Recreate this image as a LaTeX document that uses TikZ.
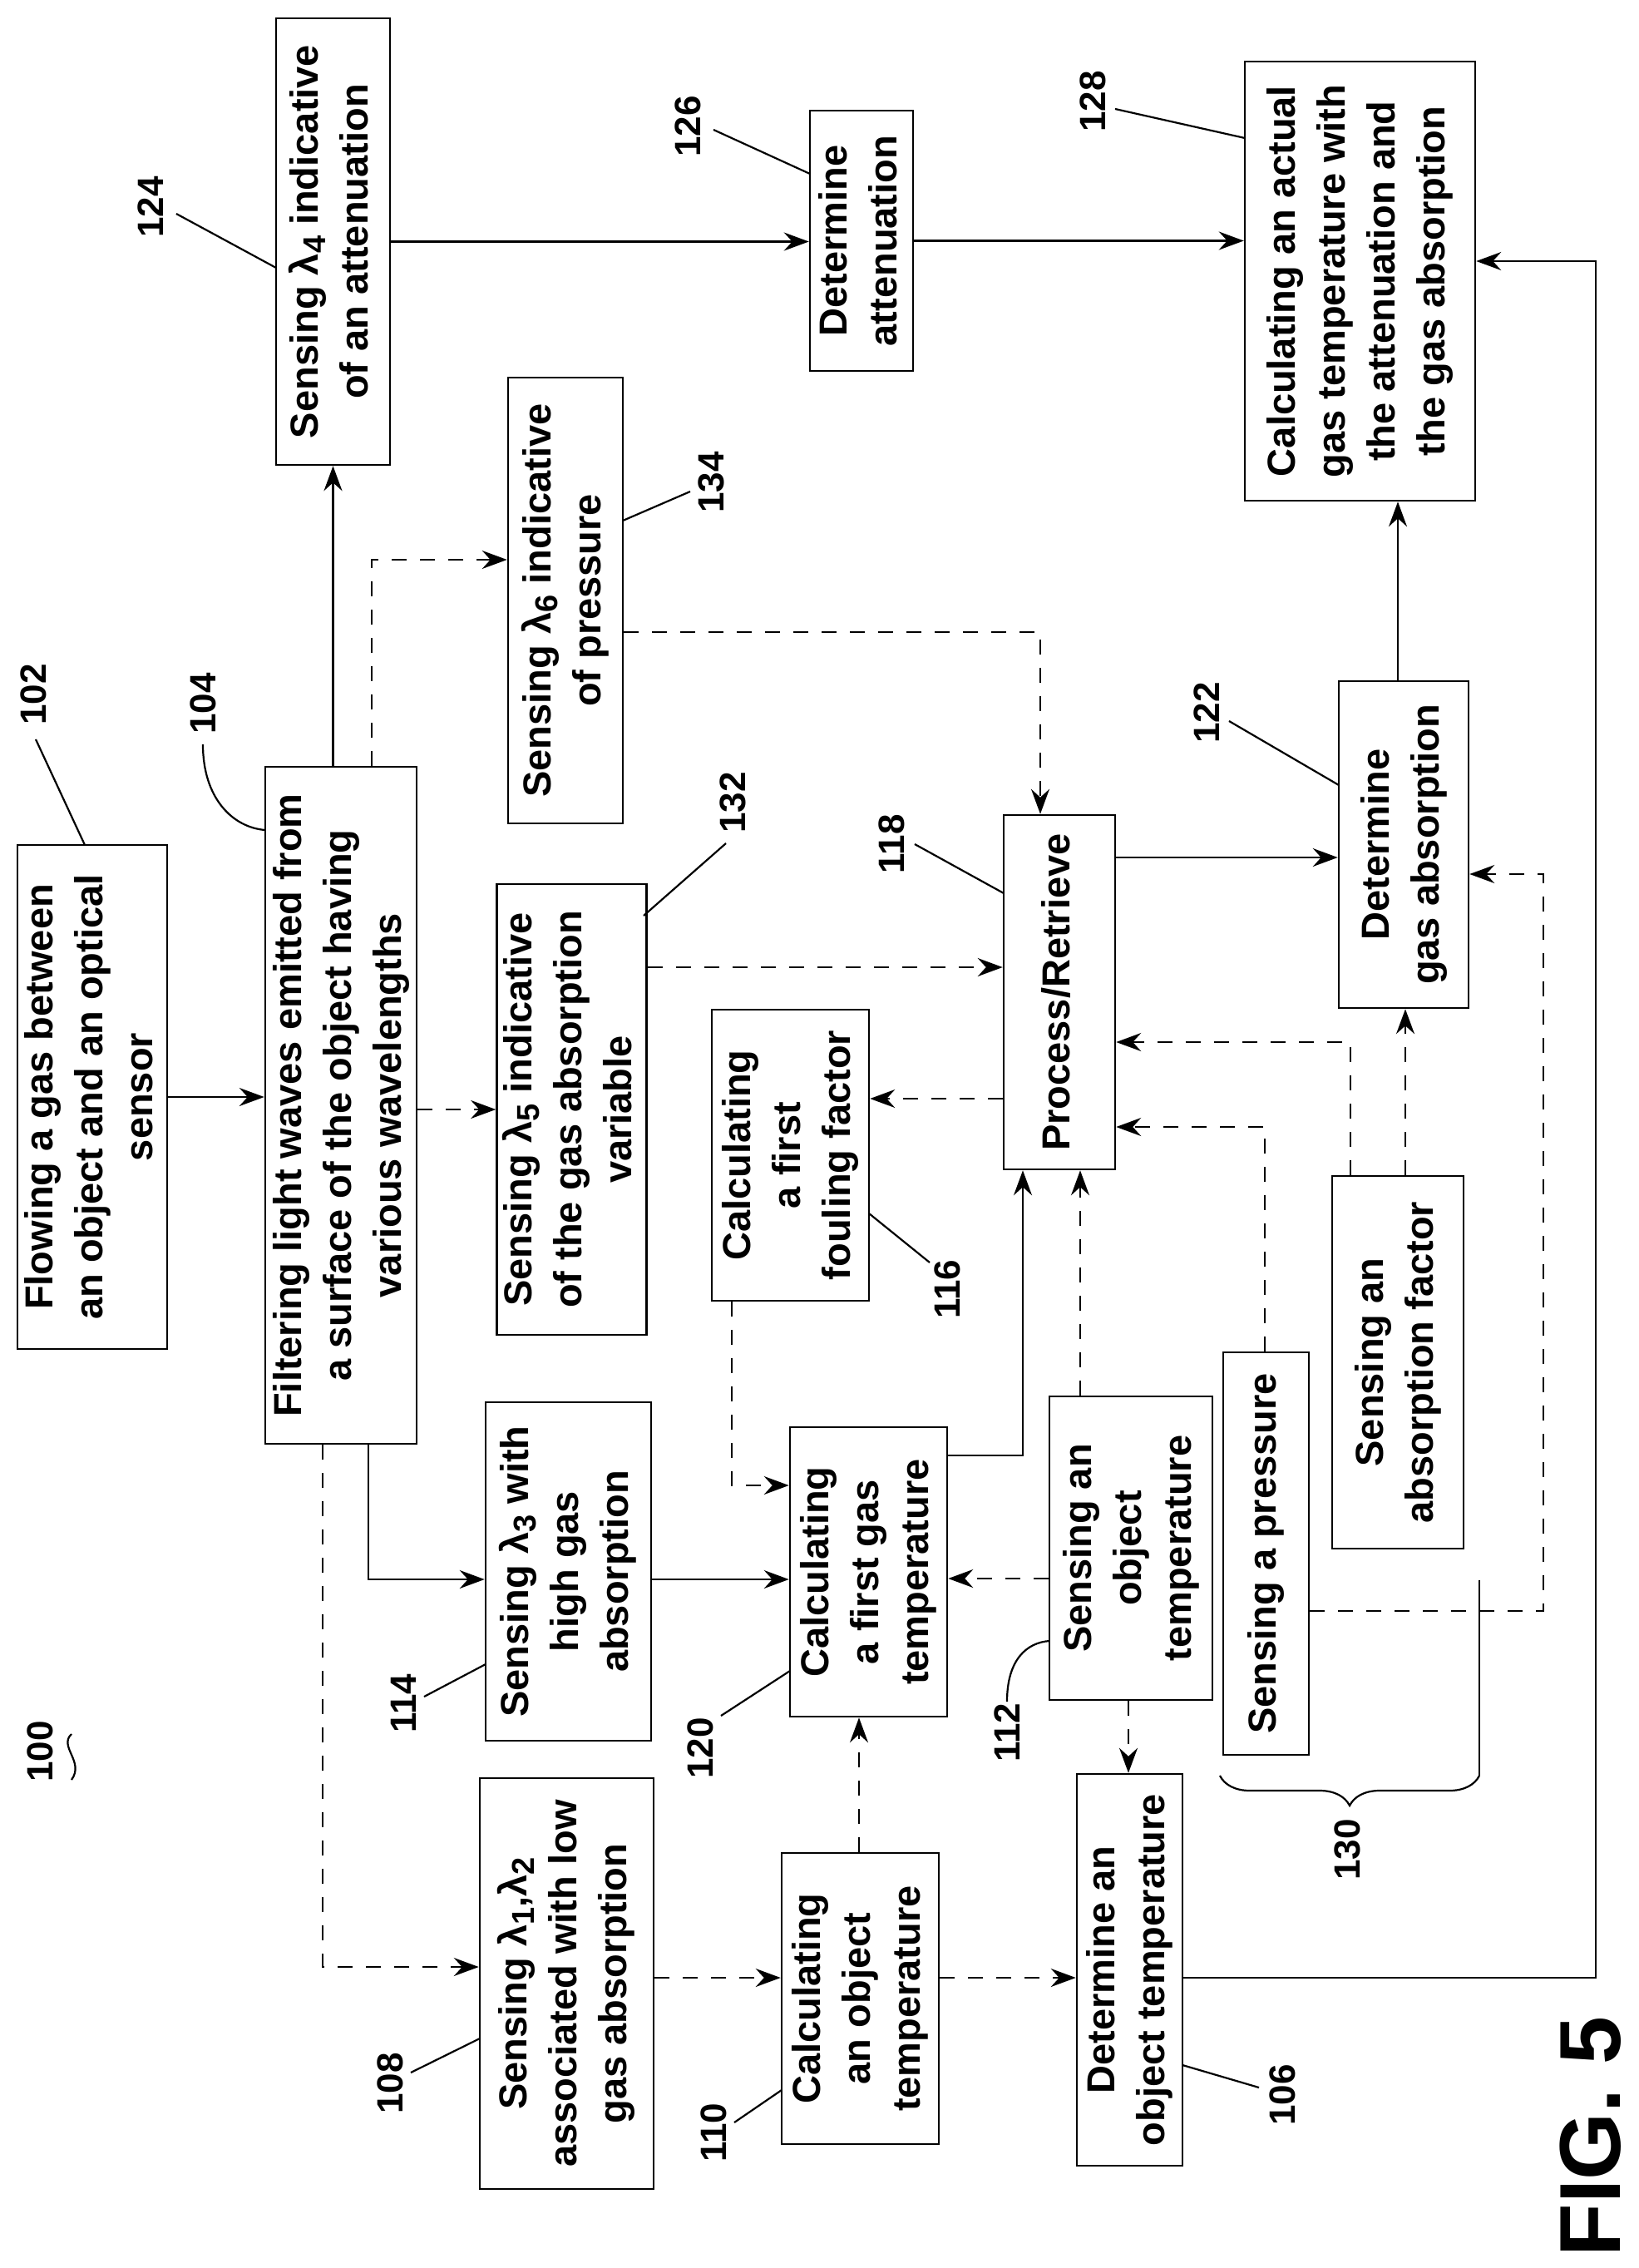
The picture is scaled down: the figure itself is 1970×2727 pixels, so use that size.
\documentclass[tikz,border=0pt]{standalone}
\usepackage{fontspec}
\setmainfont{Liberation Sans}
\usetikzlibrary{arrows.meta,decorations.pathreplacing}
\newcommand{\R}[1]{\rotatebox{90}{\begin{tabular}{@{}c@{}}#1\end{tabular}}}
\newcommand{\lam}[1]{λ\raisebox{-0.35ex}{\fontsize{38}{38}\selectfont #1}}
\begin{document}
\begin{tikzpicture}[x=1pt,y=-1pt,
  box/.style={draw,line width=2.5pt,inner sep=0pt,font=\fontsize{47}{60}\selectfont\bfseries},
  arr/.style={line width=2.2pt,-{Stealth[length=30pt,width=22pt,inset=10pt]}},
  darr/.style={arr,dash pattern=on 18pt off 16pt},
  ln/.style={line width=2.2pt},
  lbl/.style={rotate=90,font=\fontsize{44}{44}\selectfont\bfseries,inner sep=0pt}]
\useasboundingbox (0,0) rectangle (1970,2727);
\node[box,minimum width=180pt,minimum height=606pt] (b102) at (111,1319) {\R{Flowing a gas between\\an object and an optical\\sensor}};
\node[box,minimum width=182pt,minimum height=814pt] (b104) at (410,1329) {\R{Filtering light waves emitted from\\a surface of the object having\\various wavelengths}};
\node[box,minimum width=137pt,minimum height=537pt] (b124) at (400.5,290.5) {\R{Sensing \lam{4} indicative\\of an attenuation}};
\node[box,minimum width=124pt,minimum height=313pt] (b126) at (1036,289.5) {\R{Determine\\attenuation}};
\node[box,minimum width=277pt,minimum height=528pt] (b128) at (1635.5,338) {\R{Calculating an actual\\gas temperature with\\the attenuation and\\the gas absorption}};
\node[box,minimum width=138pt,minimum height=536pt] (b134) at (680,722) {\R{Sensing \lam{6} indicative\\of pressure}};
\node[box,minimum width=173pt,minimum height=542pt] (b132) at (687.5,1334) {\R{Sensing \lam{5} indicative\\of the gas absorption\\variable}};
\node[box,minimum width=134pt,minimum height=426pt] (b118) at (1274,1193) {\R{Process/Retrieve}};
\node[box,minimum width=156pt,minimum height=393pt] (b122) at (1688,1015.5) {\R{Determine\\gas absorption}};
\node[box,minimum width=189pt,minimum height=350pt] (b116) at (950.5,1389) {\R{Calculating\\a first\\fouling factor}};
\node[box,minimum width=199pt,minimum height=407pt] (b114) at (683.5,1889.5) {\R{Sensing \lam{3} with\\high gas\\absorption}};
\node[box,minimum width=189pt,minimum height=348pt] (b120) at (1044.5,1890) {\R{Calculating\\a first gas\\temperature}};
\node[box,minimum width=196pt,minimum height=365pt] (b112) at (1360,1861.5) {\R{Sensing an\\object\\temperature}};
\node[box,minimum width=103pt,minimum height=484pt] (bP) at (1522.5,1868) {\R{Sensing a pressure}};
\node[box,minimum width=158pt,minimum height=448pt] (bA) at (1681,1638) {\R{Sensing an\\absorption factor}};
\node[box,minimum width=209pt,minimum height=494pt] (b108) at (681.5,2385) {\R{Sensing \lam{1},\lam{2}\\associated with low\\gas absorption}};
\node[box,minimum width=189pt,minimum height=350pt] (b110) at (1034.5,2403) {\R{Calculating\\an object\\temperature}};
\node[box,minimum width=127pt,minimum height=471pt] (b106) at (1358.5,2368.5) {\R{Determine an\\object temperature}};
% bend coordinates
\coordinate (d1) at (447,673);
\coordinate (d2) at (1251,760);
\coordinate (d3) at (0,1163);
\coordinate (d4) at (0,1031);
\coordinate (d5) at (1681,0);
\coordinate (d6) at (0,1321);
\coordinate (d7) at (1624,1253);
\coordinate (d8) at (1521,1355);
\coordinate (d9) at (1690,0);
\coordinate (d10) at (1856,1937);
\coordinate (d11) at (0,1051);
\coordinate (d12) at (1230,1750);
\coordinate (d13) at (1299,0);
\coordinate (d14) at (0,1898);
\coordinate (d15) at (1357,0);
\coordinate (d16) at (1033,0);
\coordinate (d17) at (0,2378);
\coordinate (d18) at (1919,2378);
\coordinate (d19) at (1919,314);
\coordinate (d20) at (443,1899);
\coordinate (d21) at (388,2365);
\coordinate (d23) at (880,1786);
% connectors
\draw[arr] (b102.east) -- (b102.east -| b104.west);
\draw[arr] (b104.north -| b124.south) -- (b124.south);
\draw[darr] (d1 |- b104.north) -- (d1) -- (d1 -| b134.west);
\draw[arr] (b124.east) -- (b124.east -| b126.west);
\draw[arr] (b126.east) -- (b126.east -| b128.west);
\draw[darr] (b132.west -| b104.east) -- (b132.west);
\draw[darr] (d2 -| b134.east) -- (d2) -- (d2 |- b118.north);
\draw[darr] (d3 -| b132.east) -- (d3 -| b118.west);
\draw[arr] (d4 -| b118.east) -- (d4 -| b122.west);
\draw[arr] (d5 |- b122.north) -- (d5 |- b128.south);
\draw[darr] (d6 -| b118.west) -- (d6 -| b116.east);
\draw[darr] (d7 |- bA.north) -- (d7) -- (d7 -| b118.east);
\draw[darr] (d8 |- bP.north) -- (d8) -- (d8 -| b118.east);
\draw[darr] (d9 |- bA.north) -- (d9 |- b122.south);
\draw[darr] (d10 -| bP.east) -- (d10) -- (d10 |- d11) -- (d11 -| b122.east);
\draw[arr] (d12 -| b120.east) -- (d12) -- (d12 |- b118.south);
\draw[darr] (d13 |- b112.north) -- (d13 |- b118.south);
\draw[darr] (d14 -| b112.west) -- (d14 -| b120.east);
\draw[darr] (d15 |- b112.south) -- (d15 |- b106.north);
\draw[darr] (d16 |- b110.north) -- (d16 |- b120.south);
\draw[darr] (d17 -| b110.east) -- (d17 -| b106.west);
\draw[arr] (d17 -| b106.east) -- (d18) -- (d19) -- (d19 -| b128.east);
\draw[arr] (d20 |- b104.south) -- (d20) -- (d20 -| b114.west);
\draw[arr] (d20 -| b114.east) -- (d20 -| b120.west);
\draw[darr] (d21 |- b104.south) -- (d21) -- (d21 -| b108.west);
\draw[darr] (d17 -| b108.east) -- (d17 -| b110.west);
\draw[darr] (d23 |- b116.south) -- (d23) -- (d23 -| b120.west);
% brace 130
\coordinate (br1) at (1779,1900);
\coordinate (br2) at (1779,2135);
\coordinate (br3) at (1467,2135);
\draw[ln] (br1) -- (br2);
\draw[ln,decorate,decoration={brace,amplitude=36pt}] (br2) -- (br3);
% labels
\node[lbl] (l100) at (48,2106) {100};
\draw[ln] (86,2085) .. controls (70,2100) and (102,2118) .. (86,2140);
\node[lbl] (l102) at (40,835) {102};
\draw[ln] (43,889) -- (102,1016);
\node[lbl] (l104) at (244,846) {104};
\draw[ln] (244,895) .. controls (244,960) and (280,995) .. (319,998);
\node[lbl] (l124) at (181,249) {124};
\draw[ln] (212,257) -- (332,322);
\node[lbl] (l126) at (827,152) {126};
\draw[ln] (858,156) -- (974,209);
\node[lbl] (l128) at (1314,122) {128};
\draw[ln] (1341,131) -- (1497,166);
\node[lbl] (l134) at (855,580) {134};
\draw[ln] (830,591) -- (749,626);
\node[lbl] (l132) at (881,965) {132};
\draw[ln] (873,1014) -- (774,1101);
\node[lbl] (l118) at (1072,1015) {118};
\draw[ln] (1100,1015) -- (1207,1074);
\node[lbl] (l122) at (1451,857) {122};
\draw[ln] (1478,867) -- (1610,944);
\node[lbl] (l116) at (1139,1550) {116};
\draw[ln] (1118,1518) -- (1045,1459);
\node[lbl] (l114) at (485,2048) {114};
\draw[ln] (510,2040) -- (584,2001);
\node[lbl] (l120) at (842,2102) {120};
\draw[ln] (867,2063) -- (950,2009);
\node[lbl] (l108) at (469,2505) {108};
\draw[ln] (494,2492) -- (577,2451);
\node[lbl] (l110) at (858,2564) {110};
\draw[ln] (883,2552) -- (940,2513);
\node[lbl] (l106) at (1542,2519) {106};
\draw[ln] (1514,2510) -- (1422,2483);
\node[lbl] (l112) at (1211,2083) {112};
\draw[ln] (1211,2046) .. controls (1211,1995) and (1235,1975) .. (1262,1973);
\node[lbl] (l130) at (1620,2224) {130};
\node[lbl,font=\fontsize{104}{104}\selectfont\bfseries] (fig) at (1913,2569) {FIG. 5};
\end{tikzpicture}
\end{document}
